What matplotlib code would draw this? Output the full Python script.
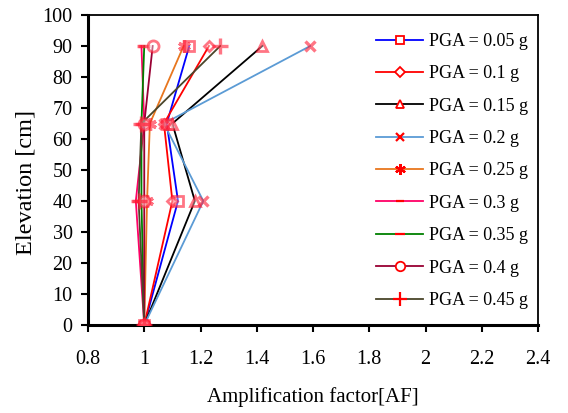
import matplotlib
matplotlib.use("Agg")
import matplotlib.pyplot as plt
from matplotlib.lines import Line2D

plt.rcParams['font.family'] = ['Liberation Serif', 'DejaVu Serif']

elevation = [0, 40, 65, 90]
labels = ["PGA = 0.05 g", "PGA = 0.1 g", "PGA = 0.15 g", "PGA = 0.2 g",
          "PGA = 0.25 g", "PGA = 0.3 g", "PGA = 0.35 g", "PGA = 0.4 g", "PGA = 0.45 g"]
af_005 = [1.00, 1.12, 1.08, 1.16]
af_010 = [1.00, 1.10, 1.07, 1.23]
af_015 = [1.00, 1.18, 1.10, 1.42]
af_020 = [1.00, 1.21, 1.07, 1.59]
af_025 = [1.00, 1.01, 1.02, 1.14]
af_030 = [1.00, 0.97, 1.00, 0.99]
af_035 = [1.00, 0.99, 0.99, 1.00]
af_040 = [1.00, 1.00, 1.00, 1.03]
af_045 = [1.00, 0.98, 0.99, 1.27]
series = [af_005, af_010, af_015, af_020, af_025, af_030, af_035, af_040, af_045]

colors = ["#0000FF", "#FF0000", "#000000", "#5B9BD5", "#E8761E",
          "#FF0066", "#008000", "#990033", "#4A452A"]
markers = ["s", "D", "^", "x", (6, 2, 0), "_", "_", "o", "+"]
msizes = [7, 5.5, 7, 7.5, 9, 6, 8, 8, 12]
filled = [False, False, False, True, True, True, True, False, True]

fig = plt.figure(figsize=(5.68, 4.13), dpi=100)
ax = fig.add_axes([88/568, 1-325/413, 450/568, 310/413])

handles = []
for vals, lab, c, m, ms, f in zip(series, labels, colors, markers, msizes, filled):
    stroke = not isinstance(m, str) or m in ['x', '+', '_']
    ax.plot(vals, elevation, color=c, lw=1.3, zorder=2)
    mfc = (1, 1, 1, 0.4) if not f else (1, 0, 0, 0.55)
    ax.plot(vals, elevation, ls='none', marker=m, ms=ms, mec=(1, 0.1, 0.2, 0.6),
            mfc=mfc, mew=2.4 if stroke else 2.0, zorder=3)
    handles.append(Line2D([], [], color=c, lw=1.3, marker=m, ms=ms * 0.85, mec='red',
                          mfc='white' if not f else 'red',
                          mew=1.6 if stroke else 1.3, label=lab))

ax.set_xlim(0.8, 2.4)
ax.set_ylim(0, 100)
ax.set_xticks([0.8, 1, 1.2, 1.4, 1.6, 1.8, 2, 2.2, 2.4])
ax.set_xticklabels(["0.8", "1", "1.2", "1.4", "1.6", "1.8", "2", "2.2", "2.4"])
ax.set_yticks(range(0, 101, 10))
ax.tick_params(axis='both', direction='out', length=5, width=1.5, labelsize=14.5)
ax.tick_params(axis='x', pad=13)
ax.tick_params(axis='y', pad=6)
ax.spines['left'].set_linewidth(2.2)
ax.spines['bottom'].set_linewidth(2.2)
ax.spines['top'].set_linewidth(1.3)
ax.spines['right'].set_linewidth(1.3)

ax.set_xlabel("Amplification factor[AF]", fontsize=15, labelpad=13)
ax.set_ylabel("Elevation [cm]", fontsize=17.5)
ax.yaxis.set_label_coords(-0.115, 0.461)

leg = ax.legend(handles=handles, loc='upper left', bbox_to_anchor=(0.625, 0.965),
                frameon=False, fontsize=13, handlelength=2.6, handletextpad=0.33,
                labelspacing=0.85, borderaxespad=0)

fig.savefig("out.png", dpi=100)
